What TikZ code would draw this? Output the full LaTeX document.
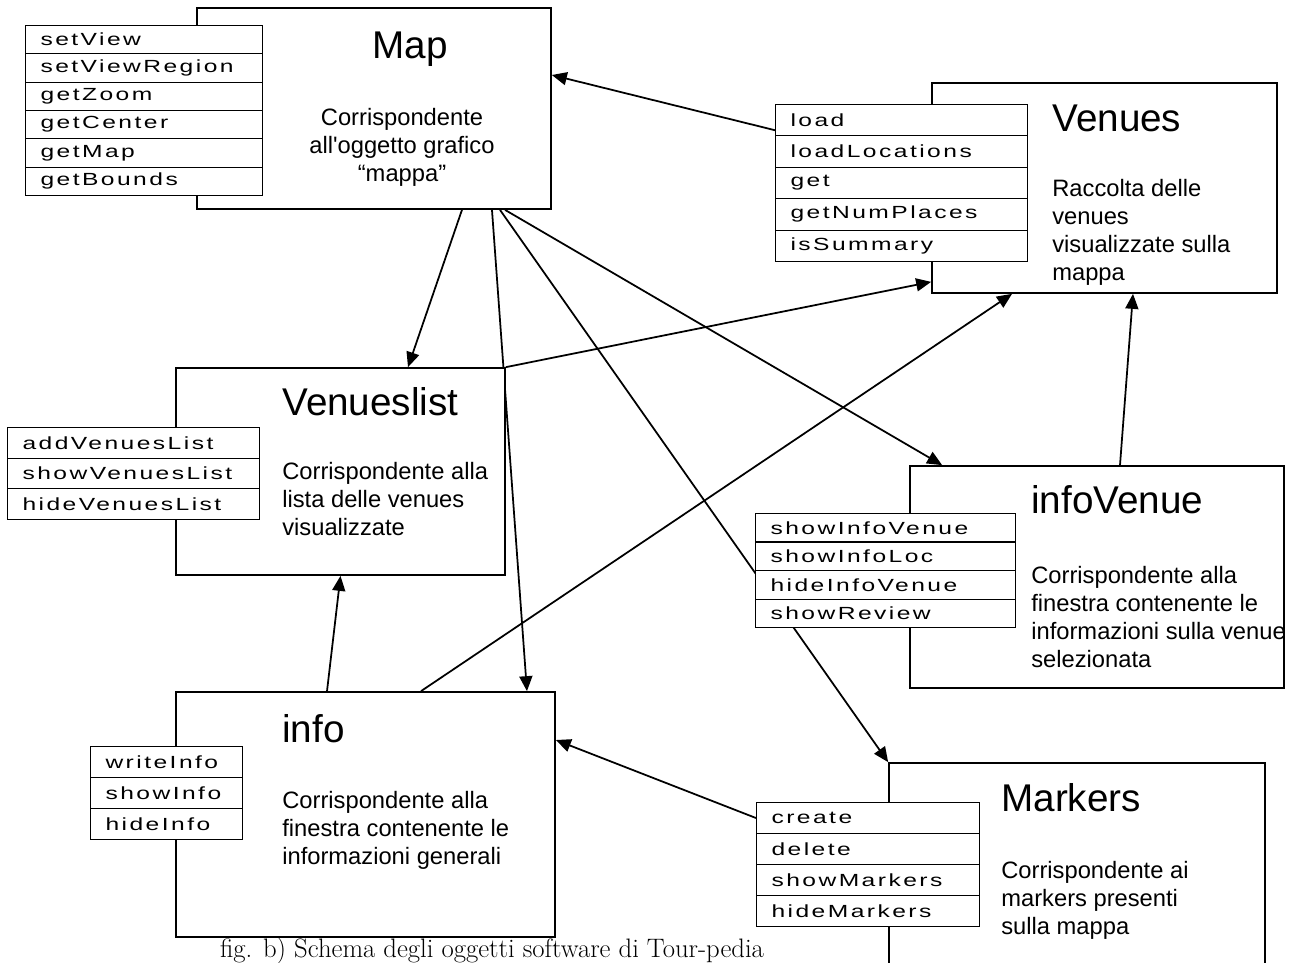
\documentclass[tikz,border=0pt]{standalone}
\usepackage{fontspec}
\newfontfamily\arialfont{Liberation Sans}
\newfontfamily\methfont[FakeStretch=1.4,LetterSpace=14]{Liberation Sans}
\usetikzlibrary{arrows.meta}

\begin{document}
\begin{tikzpicture}[x=0.02cm, y=-0.02cm,
    classbox/.style={draw, fill=white, line width=1pt, inner sep=0},
    method/.style={draw, fill=white, line width=0.6pt, anchor=north west,
        inner xsep=0.3cm, inner ysep=0, text width=#1, align=left,
        font={\methfont\fontsize{10}{11}\selectfont\hyphenpenalty=10000}},
    classname/.style={inner sep=0, anchor=base west, font=\arialfont\fontsize{22}{26}\selectfont},
    desc/.style={inner sep=0, anchor=north west, align=left, font=\arialfont\fontsize{13.5}{16}\selectfont},
    link/.style={line width=1pt, -{Triangle[length=0.3cm, width=0.26cm]}}]
    \pgfdeclarelayer{background}
    \pgfsetlayers{background,main}
    \useasboundingbox (0,0) rectangle (1298,963);
    \clip (0,0) rectangle (1298,963);

    % classes
    \node[classbox, minimum width=7.08cm, minimum height=4.02cm] (map) at (374,108.5) {};
    \node[classbox, minimum width=6.9cm, minimum height=4.2cm] (venues) at (1104.5,188) {};
    \node[classbox, minimum width=6.58cm, minimum height=4.14cm] (vlist) at (340.5,471.5) {};
    \node[classbox, minimum width=7.48cm, minimum height=4.44cm] (ivenue) at (1097,577) {};
    \node[classbox, minimum width=7.58cm, minimum height=4.9cm] (info) at (365.5,814.5) {};
    \node[classbox, minimum width=7.52cm, minimum height=4.74cm] (mark) at (1077,881.5) {};

    \node[classname] (map-name) at (372,59) {Map};
    \node[classname] (venues-name) at (1052,132) {Venues};
    \node[classname] (vlist-name) at (282,415) {Venueslist};
    \node[classname] (ivenue-name) at (1031,513) {infoVenue};
    \node[classname] (info-name) at (282,742) {info};
    \node[classname] (mark-name) at (1001,811) {Markers};

    \node[desc, anchor=north, align=center] (map-desc) at (402,108) {Corrispondente\\all'oggetto grafico\\“mappa”};
    \node[desc] (venues-desc) at (1052,179) {Raccolta delle\\venues\\visualizzate sulla\\mappa};
    \node[desc] (vlist-desc) at (282,462) {Corrispondente alla\\lista delle venues\\visualizzate};
    \node[desc] (ivenue-desc) at (1031,566) {Corrispondente alla\\finestra contenente le\\informazioni sulla venue\\selezionata};
    \node[desc] (info-desc) at (282,791) {Corrispondente alla\\finestra contenente le\\informazioni generali};
    \node[desc] (mark-desc) at (1001,861) {Corrispondente ai\\markers presenti\\sulla mappa};

    % methods
    \foreach \m [count=\i] in {setView,setViewRegion,getZoom,getCenter,getMap,getBounds}
        \node[method=4.14cm, minimum height=0.567cm] (mapm-\i) at (25,{25+28.33*(\i-1)}) {\m};
    \foreach \m [count=\i] in {load,loadLocations,get,getNumPlaces,isSummary}
        \node[method=4.44cm, minimum height=0.628cm] (venm-\i) at (775,{104+31.4*(\i-1)}) {\m};
    \foreach \m [count=\i] in {addVenuesList,showVenuesList,hideVenuesList}
        \node[method=4.44cm, minimum height=0.613cm] (vlistm-\i) at (7,{427+30.67*(\i-1)}) {\m};
    \foreach \m [count=\i] in {showInfoVenue,showInfoLoc,hideInfoVenue,showReview}
        \node[method=4.6cm, minimum height=0.57cm] (ivenm-\i) at (755,{513+28.5*(\i-1)}) {\m};
    \foreach \m [count=\i] in {writeInfo,showInfo,hideInfo}
        \node[method=2.44cm, minimum height=0.62cm] (infom-\i) at (90,{746+31*(\i-1)}) {\m};
    \foreach \m [count=\i] in {create,delete,showMarkers,hideMarkers}
        \node[method=3.86cm, minimum height=0.62cm] (markm-\i) at (756,{802+31*(\i-1)}) {\m};

    \node[anchor=base, inner sep=0, font=\fontsize{15.2}{18}\selectfont] (caption) at (492,957)
        {fig. b) Schema degli oggetti software di Tour-pedia};

    \begin{pgfonlayer}{background}
        \draw[link] ([yshift=-0.2cm]venm-1.west) -- ([yshift=0.67cm]map.east);
        \draw[link] ([xshift=1.76cm]map.south) -- ([xshift=1.35cm]vlist.north);
        \draw[link] ([xshift=2.36cm]map.south) -- ([xshift=3.23cm]info.north);
        \draw[link] ([xshift=2.52cm]map.south) -- (mark.north west);
        \draw[link] ([xshift=2.62cm]map.south) -- ([xshift=0.66cm]ivenue.north west);
        \draw[link] (vlist.north east) -- ([yshift=0.24cm]venues.south west);
        \draw[link] ([xshift=1.11cm]info.north) -- ([xshift=-1.85cm]venues.south);
        \draw[link] ([xshift=-0.77cm]info.north) -- (vlist.south);
        \draw[link] ([xshift=0.46cm]ivenue.north) -- ([xshift=0.57cm]venues.south);
        \draw[link] (markm-1.west) -- ([yshift=1.49cm]info.east);
    \end{pgfonlayer}
\end{tikzpicture}
\end{document}
